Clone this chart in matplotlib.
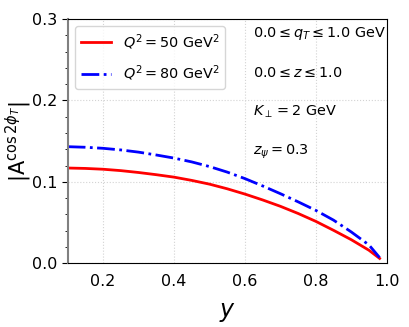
import numpy as np
import matplotlib.pyplot as plt
from matplotlib.ticker import MultipleLocator

# values
y_vals = [0.10, 0.15, 0.20, 0.25, 0.30, 0.35, 0.40, 0.45, 0.50, 0.55,
          0.60, 0.65, 0.70, 0.75, 0.80, 0.85, 0.90, 0.95, 0.98]
A_q50 = [0.1170, 0.1165, 0.1155, 0.1138, 0.1115, 0.1088, 0.1058, 0.1018, 0.0972, 0.0915,
         0.0850, 0.0778, 0.0700, 0.0612, 0.0515, 0.0405, 0.0290, 0.0160, 0.0060]
A_q80 = [0.1432, 0.1425, 0.1412, 0.1392, 0.1365, 0.1330, 0.1292, 0.1245, 0.1188, 0.1120,
         0.1040, 0.0950, 0.0855, 0.0755, 0.0650, 0.0530, 0.0385, 0.0225, 0.0070]
labels = [r'$Q^2=50$ GeV$^2$', r'$Q^2=80$ GeV$^2$']
notes = [r'$0.0\leq q_T\leq 1.0$ GeV', r'$0.0\leq z\leq 1.0$',
         r'$K_\perp=2$ GeV', r'$z_\psi=0.3$']

fig = plt.figure(figsize=(4.09, 3.27), dpi=100)
ax = fig.add_axes([0.1655, 0.1948, 0.7800, 0.7471])

ax.plot(y_vals, A_q50, color='red', lw=2, label=labels[0])
ax.plot(y_vals, A_q80, color='blue', lw=2, ls='-.', label=labels[1])

ax.set_xlim(0.1, 1.0)
ax.set_ylim(0.0, 0.3)
ax.set_xticks([0.2, 0.4, 0.6, 0.8, 1.0])
ax.set_yticks([0.0, 0.1, 0.2, 0.3])
ax.yaxis.set_minor_locator(MultipleLocator(0.02))
ax.tick_params(axis='both', which='major', labelsize=11.5)
ax.tick_params(axis='x', length=0, pad=8)
ax.tick_params(axis='y', which='major', length=4)
ax.tick_params(axis='y', which='minor', length=2.5)
ax.grid(True, ls=':', color='lightgray', lw=0.8)
ax.spines['left'].set_color('gray')
ax.spines['left'].set_linewidth(1.5)

ax.set_xlabel(r'$y$', fontsize=17)
ax.xaxis.set_label_coords(0.5, -0.15)
ax.set_ylabel(r'$|\mathrm{A}^{\cos2\phi_T}|$', fontsize=15)
ax.yaxis.set_label_coords(-0.105, 0.5)

ax.legend(loc='upper left', fontsize=10.4, handlelength=2.1,
          borderaxespad=0.5, labelspacing=0.85)

ys = [0.94, 0.78, 0.62, 0.455]
for t, yy in zip(notes, ys):
    ax.text(0.58, yy, t, transform=ax.transAxes, fontsize=10.4, va='center')

plt.savefig('out.png', dpi=100)
